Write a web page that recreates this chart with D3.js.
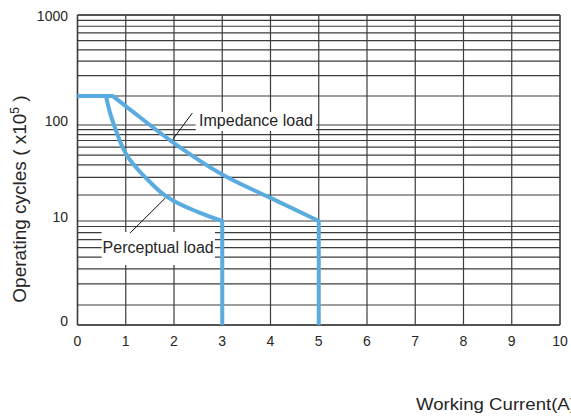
<!DOCTYPE html>
<html><head><meta charset="utf-8">
<script src="https://cdn.jsdelivr.net/npm/d3@7"></script>
<style>html,body{margin:0;padding:0;background:#fff;overflow:hidden}</style>
</head><body>
<svg id="c" width="571" height="418"></svg>
<script>
// ---- data ----
const xTickValues = [0,1,2,3,4,5,6,7,8,9,10];
const yMajorValues = [1,10,100,1000];
const yMajorLabels = ["0","10","100","1000"];
const yMinorMultipliers = [2,3,4,5,6,7,8,9];

const impedanceX = [0, 0.73, 1, 2, 3, 4, 5, 5];
const impedanceY = [200, 200, 157, 66, 32, 18.5, 10, 1];
const perceptualX = [0, 0.59, 0.67, 0.78, 0.88, 1, 1.23, 1.5, 1.77, 2, 2.5, 3, 3];
const perceptualY = [200, 200, 136, 93, 69, 52, 37, 27, 20.5, 17, 12.7, 10, 1];

const xTitle = "Working Current(A)";
const yTitle = "Operating cycles ( x10";

// ---- layout ----
const svg = d3.select("#c");
const x = d3.scaleLinear().domain([0,10]).range([77.5,560]);
// the printed grid is a hand-drawn log grid: anchor its decades and 2x lines
const yLog = d3.scaleLinear()
  .domain([0, Math.log10(2), 1, Math.log10(20), 2, Math.log10(200), 3])
  .range([325, 305, 221, 195, 125, 96, 15]);
const y = v => yLog(Math.log10(v));

const gridColor = "#3c3c3c";
const textColor = "#262626";
const blue = "#5aabe0";
const font = "Liberation Sans, Arial, sans-serif";

// grid
const g = svg.append("g");
const hVals = [];
yMajorValues.forEach((d,i) => { hVals.push(d); if (i < 3) yMinorMultipliers.forEach(m => hVals.push(d*m)); });
g.selectAll("line.h").data(hVals).enter().append("line")
  .attr("x1", x(0)).attr("x2", x(10))
  .attr("y1", d => y(d)).attr("y2", d => y(d))
  .attr("stroke", gridColor).attr("stroke-width", 1.2);
g.selectAll("line.v").data(xTickValues).enter().append("line")
  .attr("x1", d => x(d)).attr("x2", d => x(d))
  .attr("y1", y(1000)).attr("y2", y(1))
  .attr("stroke", gridColor).attr("stroke-width", d => (d===0||d===10) ? 1.6 : 1.2);
g.append("line").attr("x1", x(0)).attr("x2", x(10)).attr("y1", y(1)).attr("y2", y(1))
  .attr("stroke", gridColor).attr("stroke-width", 1.6);
g.append("line").attr("x1", x(0)).attr("x2", x(10)).attr("y1", y(1000)).attr("y2", y(1000))
  .attr("stroke", gridColor).attr("stroke-width", 1.4);

// tick labels
svg.selectAll("text.xt").data(xTickValues).enter().append("text")
  .attr("x", d => x(d)).attr("y", 346)
  .attr("text-anchor","middle").attr("font-family", font)
  .attr("font-size", 14).attr("fill", textColor).text(d => d);
svg.selectAll("text.yt").data(yMajorValues).enter().append("text")
  .attr("x", 68).attr("y", d => Math.max(y(d) - 3, 17))
  .attr("text-anchor","end").attr("dominant-baseline","middle")
  .attr("font-family", font)
  .attr("font-size", 14).attr("fill", textColor).text((d,i) => yMajorLabels[i]);

// axis titles
svg.append("text").attr("x", 416).attr("y", 410)
  .attr("font-family", font).attr("font-size", 17)
  .attr("textLength", 160).attr("lengthAdjust","spacingAndGlyphs")
  .attr("fill", textColor).text(xTitle);
const yt = svg.append("text").attr("transform","translate(26,199) rotate(-90)")
  .attr("text-anchor","middle")
  .attr("font-family", font).attr("font-size", 19)
  .attr("fill", textColor);
yt.append("tspan").text(yTitle);
yt.append("tspan").attr("dy", -7).attr("font-size", 12).text("5");
yt.append("tspan").attr("dy", 7).text(" )");

// annotation boxes
function label(txt, tx, ty, bx, by, bw, bh) {
  svg.append("rect").attr("x", bx).attr("y", by).attr("width", bw).attr("height", bh).attr("fill", "#fff");
  svg.append("text").attr("x", tx).attr("y", ty)
    .attr("font-family", font).attr("font-size", 16)
    .attr("fill", textColor).text(txt);
}
label("Impedance load", x(2.52), y(100) + 1, x(2.45), y(100) - 13, x(4.95) - x(2.45), 19);
label("Perceptual load", x(0.52), y(10) + 32, x(0.5), y(10) + 11, x(2.85) - x(0.5), 33);

// leader lines
svg.append("line").attr("x1", x(1.92)).attr("y1", y(100) + 18).attr("x2", x(2.38)).attr("y2", y(100) - 12)
  .attr("stroke", "#111").attr("stroke-width", 1);
svg.append("line").attr("x1", x(1.09)).attr("y1", y(10) + 12).attr("x2", x(1.82)).attr("y2", y(10) - 23)
  .attr("stroke", "#111").attr("stroke-width", 1);

// curves
function seriesPath(xs, ys) {
  const pts = xs.map((d,i) => [x(d), y(ys[i])]);
  const n = pts.length;
  const flat = d3.line()(pts.slice(0,2));
  const curve = d3.line().curve(d3.curveMonotoneX)(pts.slice(1, n-1));
  const drop = d3.line()(pts.slice(n-2));
  return flat + curve.replace(/^M/, "L") + drop.replace(/^M/, "L");
}
svg.append("path").attr("d", seriesPath(impedanceX, impedanceY))
  .attr("fill","none").attr("stroke", blue).attr("stroke-width", 4).attr("stroke-linejoin","round");
svg.append("path").attr("d", seriesPath(perceptualX, perceptualY))
  .attr("fill","none").attr("stroke", blue).attr("stroke-width", 4).attr("stroke-linejoin","round");
</script>
</body></html>
